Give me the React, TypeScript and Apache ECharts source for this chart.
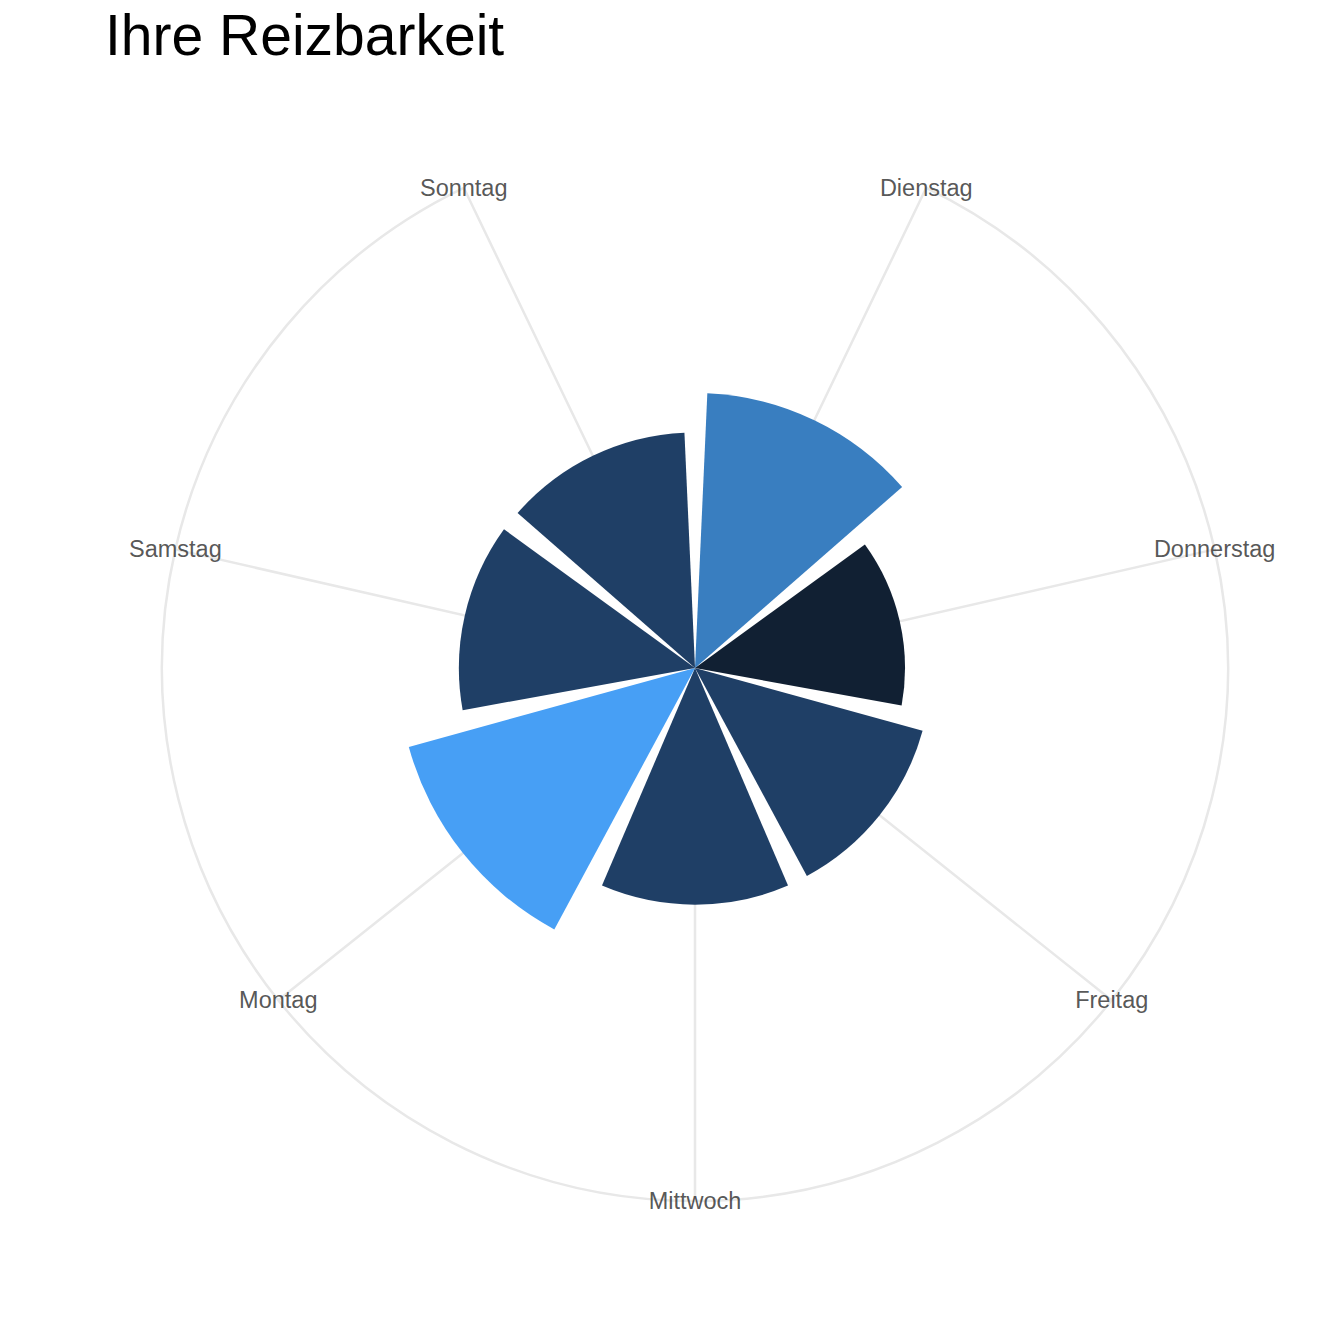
import React, { useEffect, useRef } from "react";
import * as echarts from "echarts";

const titleText = "Ihre Reizbarkeit";
const days = ["Dienstag", "Donnerstag", "Freitag", "Mittwoch", "Montag", "Samstag", "Sonntag"];
const values = [5.16, 3.94, 4.43, 4.44, 5.57, 4.43, 4.42];
const barColors = ["#397EC0", "#112033", "#1F3F66", "#1F3F66", "#479FF5", "#1F3F66", "#1F3F66"];
const radiusMax = 10;

export default function App() {
  const ref = useRef<HTMLDivElement>(null);
  useEffect(() => {
    if (!ref.current) return;
    const chart = echarts.init(ref.current, null, { renderer: "svg" });
    const step = 360 / days.length;
    chart.setOption({
      animation: false,
      backgroundColor: "#ffffff",
      title: {
        text: titleText,
        left: 100,
        top: 1,
        textStyle: { fontFamily: "Liberation Sans", fontSize: 57, fontWeight: "normal", color: "#000000" },
      },
      polar: { center: [695, 668], radius: 533 },
      angleAxis: {
        type: "category",
        data: days,
        boundaryGap: false,
        startAngle: 90 - step / 2,
        clockwise: true,
        axisLine: { show: false },
        axisTick: { show: false },
        axisLabel: { show: false },
        splitLine: { show: true, lineStyle: { color: "#E8E8E8", width: 2.5 } },
        z: 1,
      },
      radiusAxis: {
        type: "value",
        min: 0,
        max: radiusMax,
        interval: radiusMax,
        axisLine: { show: false },
        axisTick: { show: false },
        axisLabel: { show: false },
        splitLine: { show: true, lineStyle: { color: "#E8E8E8", width: 2.5 } },
      },
      series: [
        {
          type: "bar",
          coordinateSystem: "polar",
          barCategoryGap: "10%",
          data: values.map((v, i) => ({ value: v, itemStyle: { color: barColors[i] } })),
          z: 2,
        },
        {
          type: "scatter",
          coordinateSystem: "polar",
          symbol: "circle",
          symbolSize: 2,
          itemStyle: { color: "rgba(255,255,255,0)" },
          data: days.map((d, i) => [radiusMax, i]),
          labelLayout: { hideOverlap: false },
          label: {
            show: true,
            position: "inside",
            offset: [0, 2],
            formatter: (p: any) => days[p.dataIndex],
            fontFamily: "Liberation Sans",
            fontSize: 23.5,
            color: "#2B2B2B",
            textBorderWidth: 0,
            textBorderColor: "transparent",
          },
          z: 3,
        },
      ],
    });
    return () => chart.dispose();
  }, []);
  return <div ref={ref} style={{ position: "fixed", left: 0, top: 0, width: 1344, height: 1344 }} />;
}
